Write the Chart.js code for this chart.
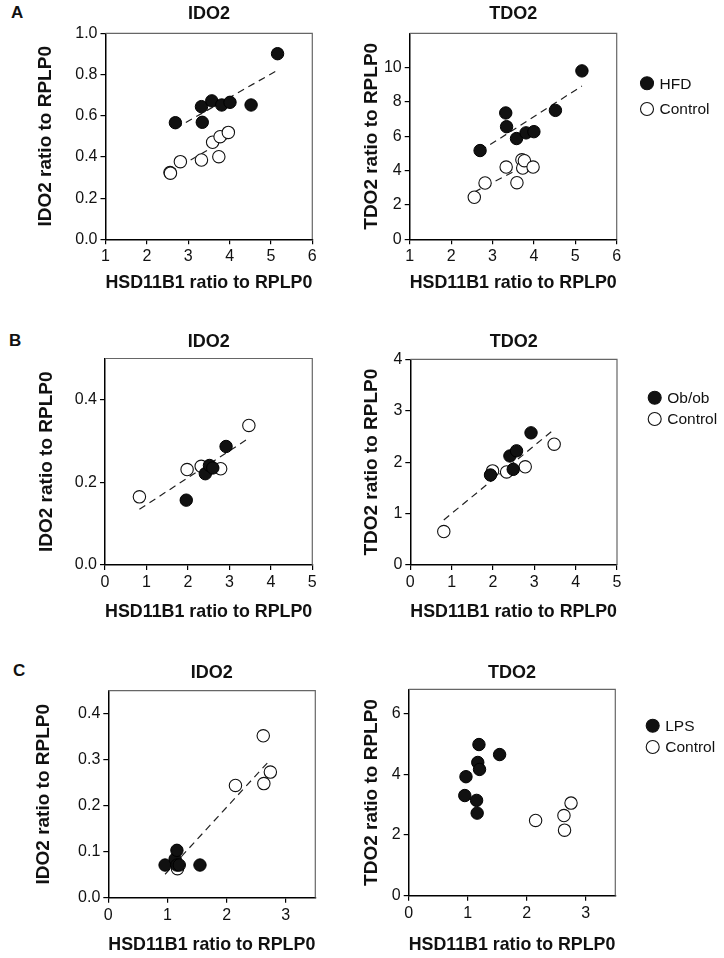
<!DOCTYPE html>
<html>
<head>
<meta charset="utf-8">
<script src="https://cdn.jsdelivr.net/npm/chart.js@4.4.1/dist/chart.umd.min.js"></script>
<style>
body { margin: 0; background: #fff; }
#wrap { position: relative; width: 724px; height: 958px; font-family: "Liberation Sans", Arial, sans-serif; }
canvas { position: absolute; }
.tag { position: absolute; font-weight: bold; font-size: 17px; line-height: 20px; color: #111; }
</style>
</head>
<body>
<div id="wrap">
  <div class="tag" style="left:11px;top:3px">A</div>
  <div class="tag" style="left:9px;top:331px">B</div>
  <div class="tag" style="left:13px;top:661px">C</div>
  <canvas id="aIdo" width="330" height="300" style="left:0;top:0"></canvas>
  <canvas id="aTdo" width="394" height="300" style="left:330px;top:0"></canvas>
  <canvas id="bIdo" width="330" height="310" style="left:0;top:320px"></canvas>
  <canvas id="bTdo" width="394" height="310" style="left:330px;top:320px"></canvas>
  <canvas id="cIdo" width="330" height="318" style="left:0;top:640px"></canvas>
  <canvas id="cTdo" width="394" height="318" style="left:330px;top:640px"></canvas>
</div>
<script>
const xTitle = 'HSD11B1 ratio to RPLP0';

// A - high fat diet
const aGroups = ['HFD', 'Control'];
const aXTicks = [1, 2, 3, 4, 5, 6];
const aIdoTicks = [0, 0.2, 0.4, 0.6, 0.8, 1.0];
const aTdoTicks = [0, 2, 4, 6, 8, 10];
const aHfdIdoX = [2.69, 3.32, 3.34, 3.57, 3.81, 4.01, 4.52, 5.16];
const aHfdIdoY = [0.566, 0.644, 0.568, 0.672, 0.652, 0.665, 0.652, 0.901];
const aCtlIdoX = [2.56, 2.57, 2.81, 3.32, 3.59, 3.74, 3.77, 3.97];
const aCtlIdoY = [0.324, 0.321, 0.377, 0.385, 0.471, 0.401, 0.498, 0.519];
const aHfdTdoX = [2.70, 3.32, 3.34, 3.58, 3.81, 4.00, 4.52, 5.16];
const aHfdTdoY = [5.17, 7.36, 6.56, 5.87, 6.20, 6.27, 7.51, 9.81];
const aCtlTdoX = [2.56, 2.82, 3.33, 3.59, 3.71, 3.73, 3.77, 3.98];
const aCtlTdoY = [2.45, 3.28, 4.21, 3.30, 4.63, 4.15, 4.58, 4.21];
// regression lines (end points)
const aHfdIdoFit = [[2.69, 0.538], [5.16, 0.821]];
const aCtlIdoFit = [[2.56, 0.325], [3.97, 0.493]];
const aHfdTdoFit = [[2.70, 5.14], [5.16, 8.93]];
const aCtlTdoFit = [[2.56, 2.75], [3.98, 4.53]];

// B - ob/ob mice
const bGroups = ['Ob/ob', 'Control'];
const bXTicks = [0, 1, 2, 3, 4, 5];
const bIdoTicks = [0, 0.2, 0.4];
const bTdoTicks = [0, 1, 2, 3, 4];
const bObIdoX = [1.96, 2.42, 2.52, 2.60, 2.92];
const bObIdoY = [0.157, 0.221, 0.241, 0.235, 0.287];
const bCtlIdoX = [0.83, 1.98, 2.32, 2.79, 3.47];
const bCtlIdoY = [0.165, 0.231, 0.239, 0.233, 0.338];
const bObTdoX = [1.94, 2.41, 2.49, 2.57, 2.92];
const bObTdoY = [1.75, 2.12, 1.86, 2.22, 2.57];
const bCtlTdoX = [0.81, 1.99, 2.33, 2.78, 3.48];
const bCtlTdoY = [0.65, 1.83, 1.81, 1.91, 2.35];
const bIdoFit = [[0.83, 0.135], [3.47, 0.307]];
const bTdoFit = [[0.81, 0.876], [3.48, 2.638]];

// C - LPS
const cGroups = ['LPS', 'Control'];
const cXTicks = [0, 1, 2, 3];
const cIdoTicks = [0, 0.1, 0.2, 0.3, 0.4];
const cTdoTicks = [0, 2, 4, 6];
const cLpsIdoX = [0.96, 1.13, 1.16, 1.16, 1.20, 1.55];
const cLpsIdoY = [0.071, 0.084, 0.103, 0.071, 0.071, 0.071];
const cCtlIdoX = [1.17, 2.15, 2.62, 2.63, 2.74];
const cCtlIdoY = [0.063, 0.244, 0.352, 0.248, 0.273];
const cLpsTdoX = [0.95, 0.97, 1.15, 1.16, 1.17, 1.19, 1.20, 1.54];
const cLpsTdoY = [3.30, 3.92, 3.14, 2.72, 4.39, 4.98, 4.16, 4.65];
const cCtlTdoX = [2.15, 2.63, 2.64, 2.75];
const cCtlTdoY = [2.48, 2.64, 2.16, 3.05];
const cIdoFit = [[0.96, 0.051], [2.74, 0.300]];

Chart.defaults.font.family = '"Liberation Sans", Arial, sans-serif';
Chart.defaults.color = '#111';

const pts = (xs, ys) => xs.map((x, i) => ({ x: x, y: ys[i] }));
const seg = s => s.map(p => ({ x: p[0], y: p[1] }));

// grey top/right edge of the box
const frame = {
  id: 'frame',
  beforeDatasetsDraw(chart) {
    const { ctx, chartArea: a } = chart;
    ctx.save();
    ctx.strokeStyle = '#666';
    ctx.lineWidth = 1.2;
    ctx.beginPath();
    ctx.moveTo(a.left, a.top);
    ctx.lineTo(a.right, a.top);
    ctx.lineTo(a.right, a.bottom);
    ctx.stroke();
    ctx.restore();
  }
};

// small key to the right of the plot
const sideKey = {
  id: 'sideKey',
  afterDraw(chart) {
    const k = chart.options.plugins.sideKey;
    if (!k || !k.show) return;
    const { ctx, chartArea: a } = chart;
    ctx.save();
    chart.data.datasets.slice(0, 2).forEach((ds, i) => {
      const cx = a.right + k.dx, cy = a.top + k.dy + i * k.gap;
      ctx.beginPath();
      ctx.arc(cx, cy, 6.5, 0, Math.PI * 2);
      ctx.fillStyle = ds.backgroundColor;
      ctx.fill();
      ctx.lineWidth = 1.1;
      ctx.strokeStyle = '#111';
      ctx.stroke();
      ctx.fillStyle = '#111';
      ctx.font = '15.5px "Liberation Sans", Arial, sans-serif';
      ctx.textBaseline = 'middle';
      ctx.fillText(ds.label, cx + 12.5, cy + 1);
    });
    ctx.restore();
  }
};

function panel(id, p, g) {
  const datasets = [
    { label: p.groups[0], data: p.filled, backgroundColor: '#111', borderColor: '#000', borderWidth: 1, pointRadius: 6.2 },
    { label: p.groups[1], data: p.open, backgroundColor: '#fff', borderColor: '#111', borderWidth: 1.1, pointRadius: 6.2 }
  ];
  p.fits.forEach(f => datasets.push({
    type: 'line', data: seg(f), showLine: true, borderColor: '#222', borderWidth: 1.2,
    borderDash: [7, 5], pointRadius: 0, fill: false
  }));
  return new Chart(document.getElementById(id), {
    type: 'scatter',
    data: { datasets: datasets },
    options: {
      responsive: false,
      animation: false,
      layout: { padding: { left: 0, right: g.padRight, top: 0, bottom: 0 } },
      plugins: {
        legend: { display: false },
        tooltip: { enabled: false },
        title: {
          display: true, text: p.title, fullSize: false, color: '#111',
          font: { size: 18, weight: 'bold' },
          padding: { top: g.tTop, bottom: g.tBottom }
        },
        sideKey: g.key
      },
      scales: {
        x: {
          type: 'linear', min: p.xRange[0], max: p.xRange[1],
          afterBuildTicks: s => { s.ticks = p.xTicks.map(v => ({ value: v })); },
          afterFit: s => { s.height = g.xH; },
          border: { color: '#000', width: 1.5 },
          grid: { drawOnChartArea: false, drawTicks: true, tickLength: 5, color: '#000', lineWidth: 1.2 },
          ticks: { font: { size: 16 }, color: '#111', padding: 3, maxRotation: 0, callback: v => String(v) },
          title: { display: true, text: xTitle, color: '#111', font: { size: 19, weight: 'bold' }, padding: { top: 0, bottom: g.xPad } }
        },
        y: {
          type: 'linear', min: p.yRange[0], max: p.yRange[1],
          afterBuildTicks: s => { s.ticks = p.yTicks.map(v => ({ value: v })); },
          afterFit: s => { s.width = g.yW; },
          border: { color: '#000', width: 1.5 },
          grid: { drawOnChartArea: false, drawTicks: true, tickLength: 5, color: '#000', lineWidth: 1.2 },
          ticks: { font: { size: 16 }, color: '#111', padding: 3, callback: v => v.toFixed(p.dec) },
          title: { display: true, text: p.yTitle, color: '#111', font: { size: 19, weight: 'bold' }, padding: { top: g.yPad, bottom: 0 } }
        }
      }
    },
    plugins: [frame, sideKey]
  });
}

panel('aIdo', {
  title: 'IDO2', yTitle: 'IDO2 ratio to RPLP0', groups: aGroups, dec: 1,
  xRange: [1, 6], yRange: [0, 1], xTicks: aXTicks, yTicks: aIdoTicks,
  filled: pts(aHfdIdoX, aHfdIdoY), open: pts(aCtlIdoX, aCtlIdoY), fits: [aHfdIdoFit, aCtlIdoFit]
}, { yW: 105.5, xH: 60.7, tTop: 3.5, tBottom: 8.2, yPad: 34.6, xPad: 5.6, padRight: 17.7, key: { show: false } });

panel('aTdo', {
  title: 'TDO2', yTitle: 'TDO2 ratio to RPLP0', groups: aGroups, dec: 0,
  xRange: [1, 6], yRange: [0, 12], xTicks: aXTicks, yTicks: aTdoTicks,
  filled: pts(aHfdTdoX, aHfdTdoY), open: pts(aCtlTdoX, aCtlTdoY), fits: [aHfdTdoFit, aCtlTdoFit]
}, { yW: 79.7, xH: 60.7, tTop: 3.5, tBottom: 8.2, yPad: 30.0, xPad: 5.6, padRight: 107.3, key: { show: true, dx: 30.3, dy: 50, gap: 25.7 } });

panel('bIdo', {
  title: 'IDO2', yTitle: 'IDO2 ratio to RPLP0', groups: bGroups, dec: 1,
  xRange: [0, 5], yRange: [0, 0.5], xTicks: bXTicks, yTicks: bIdoTicks,
  filled: pts(bObIdoX, bObIdoY), open: pts(bCtlIdoX, bCtlIdoY), fits: [bIdoFit]
}, { yW: 105, xH: 65, tTop: 11.0, tBottom: 5.9, yPad: 35.3, xPad: 6.9, padRight: 17.7, key: { show: false } });

panel('bTdo', {
  title: 'TDO2', yTitle: 'TDO2 ratio to RPLP0', groups: bGroups, dec: 0,
  xRange: [0, 5], yRange: [0, 4], xTicks: bXTicks, yTicks: bTdoTicks,
  filled: pts(bObTdoX, bObTdoY), open: pts(bCtlTdoX, bCtlTdoY), fits: [bTdoFit]
}, { yW: 80.3, xH: 65, tTop: 11.0, tBottom: 6.7, yPad: 30.0, xPad: 6.9, padRight: 107, key: { show: true, dx: 37.7, dy: 38.4, gap: 21.3 } });

panel('cIdo', {
  title: 'IDO2', yTitle: 'IDO2 ratio to RPLP0', groups: cGroups, dec: 1,
  xRange: [0, 3.5], yRange: [0, 0.45], xTicks: cXTicks, yTicks: cIdoTicks,
  filled: pts(cLpsIdoX, cLpsIdoY), open: pts(cCtlIdoX, cCtlIdoY), fits: [cIdoFit]
}, { yW: 108.3, xH: 60.3, tTop: 22.0, tBottom: 7.1, yPad: 31.9, xPad: 1.9, padRight: 14.7, key: { show: false } });

panel('cTdo', {
  title: 'TDO2', yTitle: 'TDO2 ratio to RPLP0', groups: cGroups, dec: 0,
  xRange: [0, 3.5], yRange: [0, 6.8], xTicks: cXTicks, yTicks: cTdoTicks,
  filled: pts(cLpsTdoX, cLpsTdoY), open: pts(cCtlTdoX, cCtlTdoY), fits: []
}, { yW: 78.7, xH: 62.3, tTop: 22.0, tBottom: 5.7, yPad: 30.0, xPad: 1.6, padRight: 108.7, key: { show: true, dx: 37.4, dy: 36.4, gap: 21.3 } });
</script>
</body>
</html>
